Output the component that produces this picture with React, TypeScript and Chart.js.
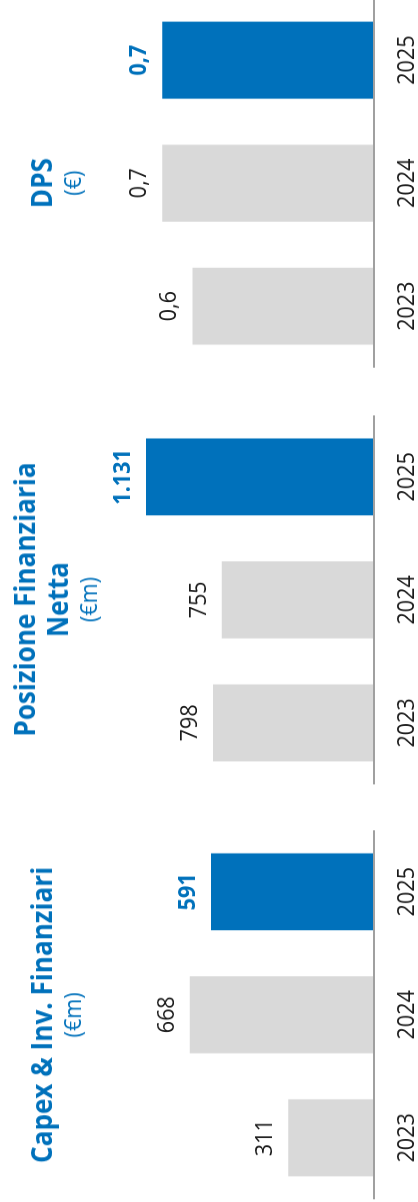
import React, { useEffect, useRef } from 'react';
import { Chart, registerables } from 'chart.js';

Chart.register(...registerables);

// ---- data ----
const years = ['2023', '2024', '2025'];
const highlightYear = '2025';
const capexValues = [311, 668, 591];
const pfnValues = [798, 755, 1131];
const dpsValues = [0.6, 0.7, 0.7];

const capexTitle = ['Capex & Inv. Finanziari'];
const capexUnit = '(€m)';
const pfnTitle = ['Posizione Finanziaria', 'Netta'];
const pfnUnit = '(€m)';
const dpsTitle = ['DPS'];
const dpsUnit = '(€)';

// ---- style / layout ----
const BLUE = '#0071BB';
const GREY = '#D9D9D9';
const TEXT = '#1A1A1A';
const AXIS = '#A0A0A0';
const FONT = '"Open Sans", sans-serif';

const PAGE_W = 418;
const PAGE_H = 1202;
const SQUEEZE = 0.9; // horizontal compression of the landscape artwork
const LAND_W = PAGE_H / SQUEEZE;
const LAND_H = PAGE_W;
const PANEL_W = 410;
const BASELINE_Y = 374;

type Panel = {
  title: string[];
  unit: string;
  values: number[];
  decimals: number;
  max: number;
  left: number;
};

const panels: Panel[] = [
  { title: capexTitle, unit: capexUnit, values: capexValues, decimals: 0, max: 1356, left: 2.8 },
  { title: pfnTitle, unit: pfnUnit, values: pfnValues, decimals: 0, max: 1855, left: 464.4 },
  { title: dpsTitle, unit: dpsUnit, values: dpsValues, decimals: 1, max: 1.236, left: 927.2 },
];

function formatValue(v: number, decimals: number): string {
  if (decimals > 0) return v.toFixed(decimals).replace('.', ',');
  return String(Math.round(v)).replace(/\B(?=(\d{3})+(?!\d))/g, '.');
}

const valueLabelPlugin = {
  id: 'valueLabels',
  afterDatasetsDraw(chart: any, _args: any, opts: any) {
    const ctx = chart.ctx;
    const meta = chart.getDatasetMeta(0);
    const data = chart.data.datasets[0].data as number[];
    const labels = chart.data.labels as string[];
    meta.data.forEach((bar: any, i: number) => {
      const hl = labels[i] === highlightYear;
      ctx.save();
      ctx.font = `${hl ? 'bold ' : ''}24px ${FONT}`;
      ctx.fillStyle = hl ? BLUE : TEXT;
      ctx.textAlign = 'center';
      ctx.textBaseline = 'alphabetic';
      ctx.fillText(formatValue(data[i], opts.decimals), bar.x, bar.y - 16);
      ctx.restore();
    });
  },
};

function BarPanel({ panel }: { panel: Panel }) {
  const ref = useRef<HTMLCanvasElement>(null);
  useEffect(() => {
    if (!ref.current) return;
    const chart = new Chart(ref.current, {
      type: 'bar',
      data: {
        labels: years,
        datasets: [
          {
            data: panel.values,
            backgroundColor: years.map((y) => (y === highlightYear ? BLUE : GREY)),
            borderWidth: 0,
            categoryPercentage: 1,
            barPercentage: 0.626,
          },
        ],
      },
      options: {
        responsive: false,
        animation: false,
        devicePixelRatio: 1,
        layout: { padding: 0 },
        plugins: {
          legend: { display: false },
          tooltip: { enabled: false },
          title: { display: false },
          valueLabels: { decimals: panel.decimals },
        } as any,
        scales: {
          x: {
            grid: { display: false, drawTicks: false },
            border: { display: true, color: AXIS, width: 2, z: 1 },
            ticks: { color: TEXT, font: { family: FONT, size: 24 }, padding: 19 },
            afterFit: (s: any) => {
              s.height = LAND_H - BASELINE_Y;
            },
          },
          y: { display: false, min: 0, max: panel.max },
        },
      },
      plugins: [valueLabelPlugin],
    });
    return () => chart.destroy();
  }, [panel]);

  return (
    <div style={{ position: 'absolute', left: panel.left, top: 0, width: PANEL_W, height: LAND_H }}>
      <canvas
        ref={ref}
        width={PANEL_W}
        height={LAND_H}
        style={{ position: 'absolute', left: 0, top: 0, width: PANEL_W, height: LAND_H }}
      />
      <div
        style={{
          position: 'absolute',
          left: 0,
          top: 0,
          width: PANEL_W,
          height: 109,
          display: 'flex',
          flexDirection: 'column',
          justifyContent: 'center',
          alignItems: 'center',
          fontFamily: FONT,
          color: BLUE,
          textAlign: 'center',
          pointerEvents: 'none',
        }}
      >
        {panel.title.map((t) => (
          <div key={t} style={{ fontWeight: 700, fontSize: 29, lineHeight: '33px', whiteSpace: 'nowrap' }}>
            {t}
          </div>
        ))}
        <div style={{ fontWeight: 400, fontSize: 24, lineHeight: '28px', marginTop: 1, whiteSpace: 'nowrap' }}>
          {panel.unit}
        </div>
      </div>
    </div>
  );
}

export default function App() {
  return (
    <div
      style={{
        position: 'fixed',
        left: 0,
        top: 0,
        width: PAGE_W,
        height: PAGE_H,
        overflow: 'hidden',
        background: '#FFFFFF',
      }}
    >
      <div
        style={{
          position: 'absolute',
          left: 0,
          top: 0,
          width: LAND_W,
          height: LAND_H,
          transformOrigin: '0 0',
          transform: `translate(0px, ${PAGE_H}px) rotate(-90deg) scale(${SQUEEZE}, 1)`,
        }}
      >
        {panels.map((p, i) => (
          <BarPanel key={i} panel={p} />
        ))}
      </div>
    </div>
  );
}
